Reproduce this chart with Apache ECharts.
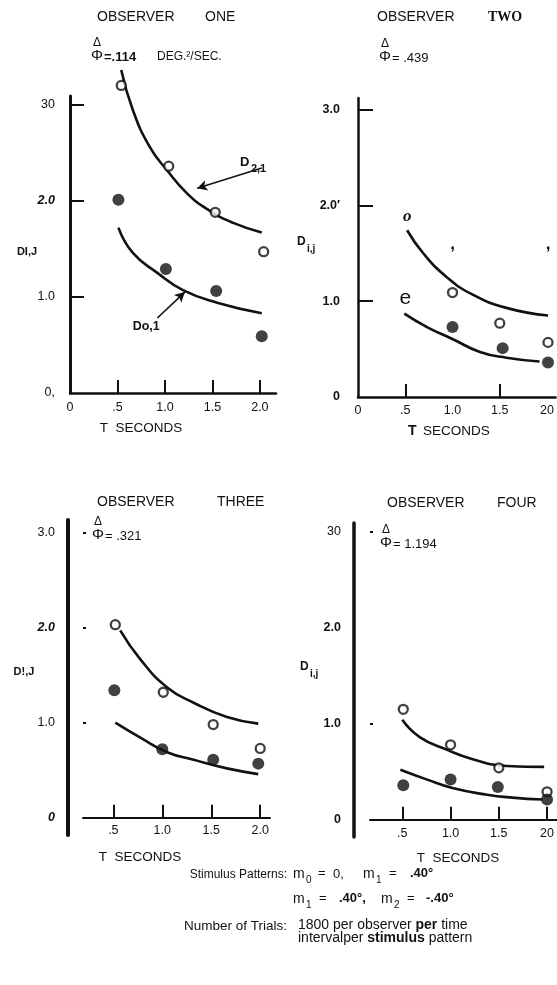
<!DOCTYPE html>
<html><head><meta charset="utf-8">
<script src="https://cdn.jsdelivr.net/npm/echarts@6/dist/echarts.min.js"></script>
<style>html,body{margin:0;padding:0;background:#fff}#c{width:557px;height:985px}</style>
</head><body><div id="c"></div><script>
// ---------------- DATA ----------------
// Panel 1 : Observer ONE
const p1OpenX = [0.54, 1.04, 1.53, 2.04];
const p1OpenY = [3.20, 2.36, 1.88, 1.47];
const p1FillX = [0.51, 1.01, 1.54, 2.02];
const p1FillY = [2.01, 1.29, 1.06, 0.59];
const p1UpperX = [0.54, 0.66, 0.84, 1.02, 1.23, 1.45, 1.72, 2.02];
const p1UpperY = [3.36, 2.95, 2.56, 2.32, 2.08, 1.91, 1.77, 1.67];
const p1LowerX = [0.51, 0.66, 0.92, 1.19, 1.55, 2.02];
const p1LowerY = [1.72, 1.46, 1.25, 1.07, 0.94, 0.83];
// Panel 2 : Observer TWO
const p2OpenX = [1.00, 1.50, 2.01];
const p2OpenY = [1.09, 0.77, 0.57];
const p2FillX = [1.00, 1.53, 2.01];
const p2FillY = [0.73, 0.51, 0.36];
const p2UpperX = [0.52, 0.69, 0.94, 1.21, 1.57, 2.01];
const p2UpperY = [1.74, 1.50, 1.25, 1.07, 0.93, 0.85];
const p2LowerX = [0.49, 0.73, 1.01, 1.29, 1.57, 1.92];
const p2LowerY = [0.87, 0.73, 0.60, 0.47, 0.41, 0.37];
const p2GlyphText = ['o', ',', ',', 'e'];
const p2GlyphX = [0.52, 1.00, 2.01, 0.50];
const p2GlyphY = [1.88, 1.59, 1.59, 1.03];
// Panel 3 : Observer THREE
const p3OpenX = [0.52, 1.01, 1.52, 2.00];
const p3OpenY = [2.03, 1.32, 0.98, 0.73];
const p3FillX = [0.51, 1.00, 1.52, 1.98];
const p3FillY = [1.34, 0.72, 0.61, 0.57];
const p3UpperX = [0.57, 0.78, 1.05, 1.32, 1.66, 1.98];
const p3UpperY = [1.97, 1.66, 1.37, 1.21, 1.06, 0.99];
const p3LowerX = [0.52, 0.78, 1.05, 1.32, 1.66, 1.98];
const p3LowerY = [1.00, 0.84, 0.69, 0.61, 0.52, 0.46];
// Panel 4 : Observer FOUR
const p4OpenX = [0.51, 1.00, 1.50, 2.00];
const p4OpenY = [1.15, 0.78, 0.54, 0.29];
const p4FillX = [0.51, 1.00, 1.49, 2.00];
const p4FillY = [0.36, 0.42, 0.34, 0.21];
const p4UpperX = [0.50, 0.68, 0.96, 1.23, 1.58, 1.97];
const p4UpperY = [1.04, 0.86, 0.73, 0.63, 0.56, 0.55];
const p4LowerX = [0.48, 0.75, 1.02, 1.38, 1.64, 1.95];
const p4LowerY = [0.52, 0.42, 0.33, 0.26, 0.23, 0.21];

// tick values & labels
const p1XTicks = [0.5, 1, 1.5, 2];
const p1XLabelVals = [0, 0.5, 1, 1.5, 2];
const p1XLabels = ['0', '.5', '1.0', '1.5', '2.0'];
const p1YVals = [0, 1, 2, 3];
const p1YLabels = ['0,', '1.0', '2.0', '30'];
const p2XTicks = [0.5, 1.5];
const p2XLabelVals = [0, 0.5, 1, 1.5, 2];
const p2XLabels = ['0', '.5', '1.0', '1.5', '20'];
const p2YVals = [0, 1, 2, 3];
const p2YLabels = ['0', '1.0', '2.0\u2032', '3.0'];
const p3XTicks = [0.5, 1, 1.5, 2];
const p3XLabels = ['.5', '1.0', '1.5', '2.0'];
const p3YVals = [0, 1, 2, 3];
const p3YLabels = ['0', '1.0', '2.0', '3.0'];
const p3YDotTicks = [1, 2, 3];
const p4XTicks = [0.5, 1, 1.5, 2];
const p4XLabels = ['.5', '1.0', '1.5', '20'];
const p4YVals = [0, 1, 2, 3];
const p4YLabels = ['0', '1.0', '2.0', '30'];
const p4YDotTicks = [1, 3];

// ---------------- STYLE / LAYOUT ----------------
const FONT = 'Liberation Sans, Arial, sans-serif';
const INK = '#111';
const richStyles = {
  n: {fontFamily: FONT, fontSize: 12.5, color: INK},
  b: {fontFamily: FONT, fontSize: 12.5, color: INK, fontWeight: 'bold'},
  bi: {fontFamily: FONT, fontSize: 12.5, color: INK, fontWeight: 'bold', fontStyle: 'italic'}
};
const p1YStyle = {'2.0': 'bi'};
const p2YStyle = {'0': 'b', '1.0': 'b', '2.0\u2032': 'b', '3.0': 'b'};
const p3YStyle = {'2.0': 'bi', '0': 'bi'};
const p4YStyle = {'0': 'b', '1.0': 'b', '2.0': 'b'};

function fmt(values, labels, styleMap) {
  return function (v) {
    const i = values.findIndex(t => Math.abs(t - v) < 1e-6);
    if (i < 0) return '';
    const s = labels[i];
    const st = styleMap && styleMap[s];
    return '{' + (st || 'n') + '|' + s + '}';
  };
}
const zip = (xs, ys) => xs.map((x, i) => [x, ys[i]]);

const grids = [
  {left: 70, top: 96, width: 206, height: 297},
  {left: 358, top: 98, width: 199, height: 299},
  {left: 83, top: 520, width: 187, height: 315},
  {left: 370, top: 523, width: 187, height: 314}
];

function xAx(gi, min, max, ticks, lvals, labels, lw, margin) {
  return {
    type: 'value', gridIndex: gi, min: min, max: max, position: 'bottom',
    axisLine: {show: true, onZero: true, lineStyle: {color: INK, width: lw}},
    axisTick: {show: true, inside: true, length: 13, customValues: ticks, lineStyle: {color: INK, width: 2}},
    axisLabel: {show: true, customValues: lvals, margin: margin, formatter: fmt(lvals, labels), rich: richStyles},
    splitLine: {show: false}
  };
}
function yAx(gi, min, max, opts) {
  return Object.assign({
    type: 'value', gridIndex: gi, min: min, max: max, position: 'left',
    splitLine: {show: false}
  }, opts);
}

const xAxes = [
  xAx(0, 0, 2.17, p1XTicks, p1XLabelVals, p1XLabels, 2.5, 8),
  xAx(1, 0, 2.09, p2XTicks, p2XLabelVals, p2XLabels, 2.5, 7),
  xAx(2, 0.19, 2.1, p3XTicks, p3XTicks, p3XLabels, 2, -11),
  xAx(3, 0.165, 2.1, p4XTicks, p4XTicks, p4XLabels, 2, -10)
];
const yAxes = [
  yAx(0, 0, 3.09, {
    axisLine: {show: true, onZero: false, lineStyle: {color: INK, width: 3}},
    axisTick: {show: true, inside: true, length: 14, customValues: [1, 2, 3], lineStyle: {color: INK, width: 2}},
    axisLabel: {customValues: p1YVals, margin: 15, formatter: fmt(p1YVals, p1YLabels, p1YStyle), rich: richStyles}
  }),
  yAx(1, 0, 3.12, {
    axisLine: {show: true, onZero: false, lineStyle: {color: INK, width: 2.5}},
    axisTick: {show: true, inside: true, length: 15, customValues: [1, 2, 3], lineStyle: {color: INK, width: 2}},
    axisLabel: {customValues: p2YVals, margin: 18, formatter: fmt(p2YVals, p2YLabels, p2YStyle), rich: richStyles}
  }),
  yAx(2, -0.18, 3.13, {
    offset: 15,
    axisLine: {show: true, onZero: false, lineStyle: {color: INK, width: 4}},
    axisTick: {show: false},
    axisLabel: {customValues: p3YVals, margin: 13, formatter: fmt(p3YVals, p3YLabels, p3YStyle), rich: richStyles}
  }),
  yAx(3, -0.18, 3.09, {
    offset: 16,
    axisLine: {show: true, onZero: false, lineStyle: {color: INK, width: 3.5}},
    axisTick: {show: false},
    axisLabel: {customValues: p4YVals, margin: 13, formatter: fmt(p4YVals, p4YLabels, p4YStyle), rich: richStyles}
  }),
  yAx(2, -0.18, 3.13, {
    offset: 0,
    axisLine: {show: false, onZero: false},
    axisTick: {show: true, inside: true, length: 3, customValues: p3YDotTicks, lineStyle: {color: INK, width: 2}},
    axisLabel: {show: false}
  }),
  yAx(3, -0.18, 3.09, {
    offset: 0,
    axisLine: {show: false, onZero: false},
    axisTick: {show: true, inside: true, length: 3, customValues: p4YDotTicks, lineStyle: {color: INK, width: 2}},
    axisLabel: {show: false}
  })
];

function curve(gi, xs, ys) {
  return {type: 'line', xAxisIndex: gi, yAxisIndex: gi, data: zip(xs, ys), smooth: true,
    symbol: 'none', clip: false, lineStyle: {color: INK, width: 2.6}, z: 2, silent: true};
}
function openPts(gi, xs, ys) {
  return {type: 'scatter', xAxisIndex: gi, yAxisIndex: gi, data: zip(xs, ys), symbol: 'circle',
    symbolSize: 9, clip: false, itemStyle: {color: '#fff', borderColor: INK, borderWidth: 2.3}, z: 4};
}
function fillPts(gi, xs, ys) {
  return {type: 'scatter', xAxisIndex: gi, yAxisIndex: gi, data: zip(xs, ys), symbol: 'circle',
    symbolSize: 12, clip: false, itemStyle: {color: INK}, z: 4};
}
function arrow(gi, from, to) {
  return {type: 'line', xAxisIndex: gi, yAxisIndex: gi, data: [], silent: true,
    markLine: {silent: true, symbol: ['none', 'arrow'], symbolSize: [8, 10], animation: false,
      lineStyle: {color: INK, width: 1.6, type: 'solid'}, label: {show: false},
      data: [[{coord: from}, {coord: to}]]}};
}

const series = [
  curve(0, p1UpperX, p1UpperY), curve(0, p1LowerX, p1LowerY),
  openPts(0, p1OpenX, p1OpenY), fillPts(0, p1FillX, p1FillY),
  arrow(0, [2.02, 2.34], [1.34, 2.13]), arrow(0, [0.92, 0.78], [1.21, 1.05]),
  curve(1, p2UpperX, p2UpperY), curve(1, p2LowerX, p2LowerY),
  openPts(1, p2OpenX, p2OpenY), fillPts(1, p2FillX, p2FillY),
  curve(2, p3UpperX, p3UpperY), curve(2, p3LowerX, p3LowerY),
  openPts(2, p3OpenX, p3OpenY), fillPts(2, p3FillX, p3FillY),
  curve(3, p4UpperX, p4UpperY), curve(3, p4LowerX, p4LowerY),
  openPts(3, p4OpenX, p4OpenY), fillPts(3, p4FillX, p4FillY)
];

const chart = echarts.init(document.getElementById('c'));
chart.setOption({
  animation: false,
  backgroundColor: '#fff',
  grid: grids,
  xAxis: xAxes,
  yAxis: yAxes,
  series: series
});

// ---------------- TEXT ----------------
const boldRich = {b: {fontFamily: FONT, fontWeight: 'bold', fontSize: 14, fill: INK}};
function T(x, y, text, font, align, extra) {
  return {type: 'text', silent: true, z: 10, style: Object.assign({
    x: x, y: y, text: text, font: font || ('14px ' + FONT), fill: INK,
    align: align || 'left', verticalAlign: 'middle'}, extra || {})};
}
const sub = (x, y, main, s, f1, f2, dx) => [T(x, y, main, f1), T(x + dx, y + 7, s, f2)];
function phi(x, y, rest, restFont) {
  return [T(x, y - 13, '\u0394', '12px ' + FONT, 'center'),
          T(x, y, '\u03A6', '15px ' + FONT, 'center'),
          T(x + 7, y + 1, rest, restFont || ('bold 13px ' + FONT))];
}
const px = (g, x, y) => chart.convertToPixel({gridIndex: g}, [x, y]);

const els = [];
// titles
els.push(T(97, 17, 'OBSERVER'), T(205, 17, 'ONE'));
els.push(T(377, 17, 'OBSERVER'), T(488, 17, 'TWO', 'bold 14px Liberation Serif, serif'));
els.push(T(97, 502, 'OBSERVER'), T(217, 502, 'THREE'));
els.push(T(387, 503, 'OBSERVER'), T(497, 503, 'FOUR'));
// phi lines
els.push(...phi(97, 56, '=.114'), T(157, 57, 'DEG.\u00B2/SEC.', '12px ' + FONT));
els.push(...phi(385, 57, '= .439', '13px ' + FONT));
els.push(...phi(98, 535, '= .321', '13px ' + FONT));
els.push(...phi(386, 543, '= 1.194', '13px ' + FONT));
// y titles
els.push(T(27, 252, 'DI,J', 'bold 11px ' + FONT, 'center'));
els.push(...sub(297, 242, 'D', 'i,j', 'bold 12px ' + FONT, 'bold 10px ' + FONT, 10));
els.push(T(24, 672, 'D!,J', 'bold 11px ' + FONT, 'center'));
els.push(...sub(300, 667, 'D', 'i,j', 'bold 12px ' + FONT, 'bold 10px ' + FONT, 10));
// x titles
els.push(T(141, 428, 'T  SECONDS', '13.5px ' + FONT, 'center'));
els.push(T(408, 431, 'T', 'bold 14px ' + FONT), T(423, 431, 'SECONDS', '13.5px ' + FONT));
els.push(T(140, 857, 'T  SECONDS', '13.5px ' + FONT, 'center'));
els.push(T(458, 858, 'T  SECONDS', '13.5px ' + FONT, 'center'));
// panel 1 annotations (anchored through the axes)
let a = px(0, 1.79, 2.40);
els.push(...sub(a[0], a[1], 'D', '2,1', 'bold 13px ' + FONT, 'bold 11px ' + FONT, 11));
a = px(0, 0.66, 0.69);
els.push(T(a[0], a[1], 'Do,1', 'bold 12.5px ' + FONT));
// panel 2 scan glyphs
const glyphFonts = ['italic bold 17px Liberation Serif, serif', 'bold 17px ' + FONT, 'bold 17px ' + FONT, '21px ' + FONT];
p2GlyphText.forEach((g, i) => {
  const p = px(1, p2GlyphX[i], p2GlyphY[i]);
  els.push(T(p[0], p[1], g, glyphFonts[i], 'center'));
});
// bottom notes
const NF = '12px ' + FONT, MF = '14px ' + FONT, NB = 'bold 13px ' + FONT, NS = '10px ' + FONT, EF = '13px ' + FONT;
els.push(T(287, 875, 'Stimulus Patterns:', NF, 'right'));
els.push(T(293, 874, 'm', MF), T(306, 880, '0', NS), T(318, 873, '=', EF), T(333, 874, '0,', EF),
         T(363, 874, 'm', MF), T(376, 880, '1', NS), T(389, 873, '=', EF), T(410, 873, '.40\u00B0', NB));
els.push(T(293, 899, 'm', MF), T(306, 905, '1', NS), T(319, 898, '=', EF), T(339, 898, '.40\u00B0,', NB),
         T(381, 899, 'm', MF), T(394, 905, '2', NS), T(407, 898, '=', EF), T(426, 898, '-.40\u00B0', NB));
els.push(T(287, 926, 'Number of Trials:', '13.5px ' + FONT, 'right'));
els.push(T(298, 925, '1800 per observer {b|per} time', MF, 'left', {rich: boldRich}));
els.push(T(298, 938, 'intervalper {b|stimulus} pattern', MF, 'left', {rich: boldRich}));

chart.setOption({graphic: els});
</script></body></html>
